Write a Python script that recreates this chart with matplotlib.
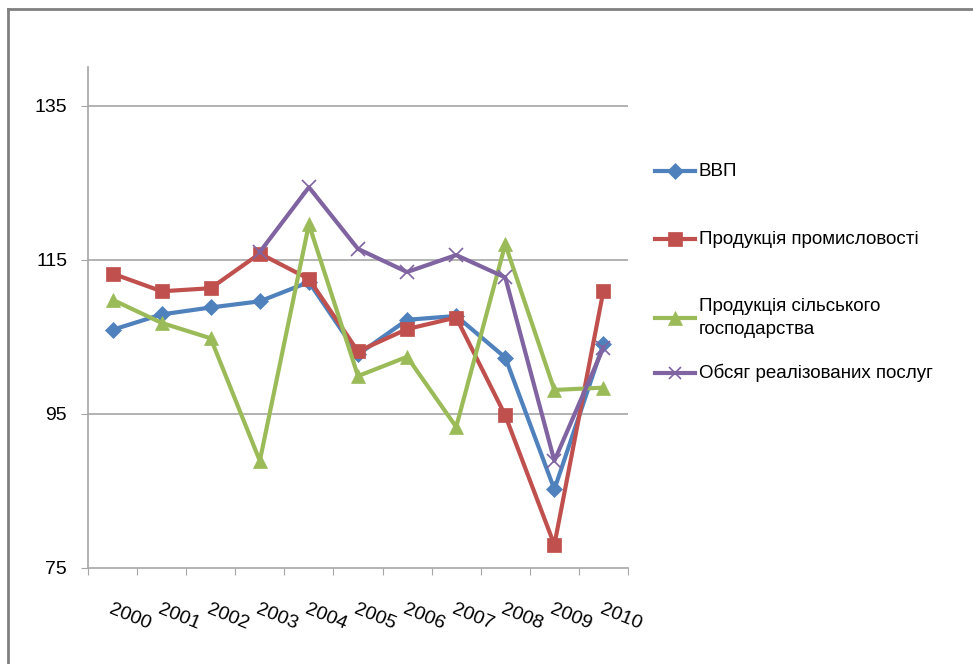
import numpy as np
import matplotlib.pyplot as plt
from matplotlib.lines import Line2D

plt.rcParams['font.family'] = ['Liberation Sans Narrow', 'Liberation Sans', 'DejaVu Sans']

years = ['2000', '2001', '2002', '2003', '2004', '2005', '2006', '2007', '2008', '2009', '2010']
gdp = [105.9, 107.9, 108.8, 109.6, 112.1, 102.7, 107.2, 107.7, 102.3, 85.2, 104.1]
industry = [113.2, 110.9, 111.3, 115.8, 112.5, 103.1, 106.0, 107.5, 94.8, 78.0, 111.0]
agriculture = [109.8, 106.8, 104.8, 88.9, 119.6, 99.9, 102.4, 93.3, 117.0, 98.1, 98.4]
services = [np.nan, np.nan, np.nan, 116.0, 124.4, 116.4, 113.4, 115.6, 112.7, 88.9, 103.6]

labels = ['ВВП', 'Продукція промисловості', 'Продукція сільського\nгосподарства',
          'Обсяг реалізованих послуг']
colors = ['#4F81BD', '#C0504D', '#9BBB59', '#8064A2']
markers = ['D', 's', '^', 'x']
msizes = [8.5, 10.5, 10.5, 10]

fig = plt.figure(figsize=(9.73, 6.64), dpi=100)
ax = fig.add_axes([88 / 973, 1 - 568 / 664, 540 / 973, 501 / 664])

x = np.arange(len(years))
series = [gdp, industry, agriculture, services]
for vals, c, m, ms in zip(series, colors, markers, msizes):
    ax.plot(x, vals, color=c, lw=3, marker=m, markersize=ms,
            markeredgewidth=1.2 if m == 'x' else 0.5, markeredgecolor=c,
            markerfacecolor=c, clip_on=False)

ax.set_xlim(-0.5, len(years) - 0.5)
ax.set_ylim(75, 140)
ax.set_yticks([75, 95, 115, 135])
ax.set_yticklabels(['75', '95', '115', '135'], fontsize=14)
for yv in [95, 115, 135]:
    ax.axhline(yv, color='#A6A6A6', lw=1.2, zorder=0)

ax.set_xticks(np.arange(-0.5, len(years)), [''] * (len(years) + 1))
ax.set_xticks(x, years, minor=True)
ax.tick_params(axis='x', which='major', direction='out', length=5, color='#A6A6A6')
ax.tick_params(axis='x', which='minor', length=0, pad=24)
for t in ax.get_xticklabels(minor=True):
    t.set_rotation(-22)
    t.set_ha('left')
    t.set_rotation_mode('anchor')
    t.set_fontsize(14)
ax.tick_params(axis='y', direction='out', length=5, color='#A6A6A6', pad=10)

for s in ['top', 'right']:
    ax.spines[s].set_visible(False)
for s in ['left', 'bottom']:
    ax.spines[s].set_color('#A6A6A6')
    ax.spines[s].set_linewidth(1.2)

# legend, Excel style on the right
leg_y = [171, 239, 318, 373]
for lab, c, m, ms, yy in zip(labels, colors, markers, msizes, leg_y):
    fy = 1 - yy / 664
    fig.add_artist(Line2D([655 / 973, 695 / 973], [fy, fy], color=c, lw=3))
    fig.add_artist(Line2D([675 / 973], [fy], color=c, marker=m, markersize=ms * 0.9,
                          markeredgewidth=1.2 if m == 'x' else 0.5,
                          markeredgecolor=c, markerfacecolor=c))
    fig.text(699 / 973, fy, lab, fontsize=13.5, va='center', ha='left', linespacing=1.45)

# outer chart frame (top and left visible)
fig.add_artist(Line2D([8 / 973, 1], [1 - 9 / 664, 1 - 9 / 664], color='#808080', lw=2))
fig.add_artist(Line2D([8 / 973, 8 / 973], [0, 1 - 9 / 664], color='#808080', lw=2))

fig.savefig('out.png', dpi=100)
